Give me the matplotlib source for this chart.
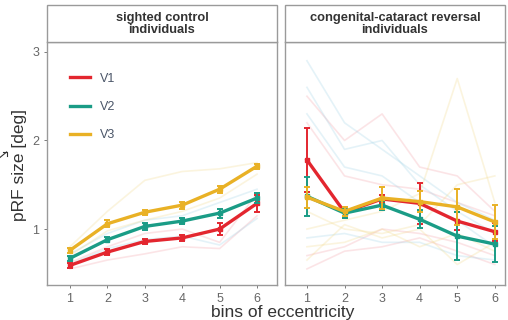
import numpy as np
import matplotlib.pyplot as plt
from matplotlib.patches import Rectangle
from matplotlib.lines import Line2D

# eccentricity bins
bins = [1, 2, 3, 4, 5, 6]

# group means and errors: sighted controls
sc_v1 = [0.59, 0.74, 0.86, 0.90, 1.00, 1.29]
sc_v2 = [0.67, 0.88, 1.03, 1.09, 1.18, 1.35]
sc_v3 = [0.76, 1.06, 1.19, 1.27, 1.45, 1.71]
sc_v1_err = [0.03, 0.03, 0.03, 0.03, 0.07, 0.10]
sc_v2_err = [0.03, 0.03, 0.04, 0.03, 0.05, 0.06]
sc_v3_err = [0.03, 0.04, 0.03, 0.04, 0.04, 0.03]

# group means and errors: congenital-cataract reversal
cc_v1 = [1.78, 1.19, 1.34, 1.29, 1.09, 0.97]
cc_v2 = [1.37, 1.18, 1.27, 1.11, 0.92, 0.83]
cc_v3 = [1.36, 1.20, 1.35, 1.31, 1.25, 1.08]
cc_v1_err = [0.36, 0.06, 0.05, 0.23, 0.10, 0.10]
cc_v2_err = [0.22, 0.05, 0.05, 0.10, 0.27, 0.20]
cc_v3_err = [0.12, 0.05, 0.12, 0.12, 0.20, 0.19]

# individual subjects (faint lines), read approximately
sc_ind_v1 = [[0.55, 0.65, 0.72, 0.80, 0.78, 1.15],
             [0.62, 0.80, 0.95, 1.00, 0.85, 1.40]]
sc_ind_v2 = [[0.60, 0.78, 0.88, 0.92, 0.82, 1.12],
             [0.72, 0.95, 1.10, 1.15, 1.30, 1.45]]
sc_ind_v3 = [[0.80, 1.20, 1.55, 1.65, 1.68, 1.75],
             [0.70, 0.98, 1.10, 1.20, 1.35, 1.62]]

cc_ind_v1 = [[2.50, 2.00, 2.30, 1.70, 1.60, 1.20],
             [2.20, 1.60, 1.50, 1.45, 1.30, 1.15],
             [0.70, 0.80, 1.00, 0.95, 0.85, 0.70],
             [0.55, 0.75, 0.80, 0.90, 0.75, 0.60]]
cc_ind_v2 = [[2.90, 2.20, 1.90, 1.60, 1.30, 1.10],
             [2.60, 1.90, 2.00, 1.50, 1.20, 0.95],
             [2.30, 1.70, 1.60, 1.30, 1.10, 0.80],
             [0.90, 0.95, 0.85, 0.85, 0.70, 0.65]]
cc_ind_v3 = [[1.00, 1.10, 1.20, 1.40, 2.70, 1.30],
             [1.20, 1.00, 0.95, 1.05, 1.50, 1.60],
             [0.80, 0.85, 1.00, 0.80, 0.95, 0.75],
             [0.65, 1.05, 0.90, 1.00, 0.60, 0.85]]

labels = ['V1', 'V2', 'V3']
colors = ['#e3262f', '#1a9c86', '#e9b125']
ind_colors = ['#f4a0a8', '#9fd3e6', '#f2d98a']

plt.rcParams['font.family'] = ['Liberation Sans', 'DejaVu Sans']

fig = plt.figure(figsize=(5.08, 3.2), dpi=100)
ax1 = fig.add_axes([0.0925, 0.109, 0.4525, 0.76])
ax2 = fig.add_axes([0.561, 0.109, 0.433, 0.76])

panels = [
    (ax1, 'sighted control\nindividuals', [sc_v1, sc_v2, sc_v3],
     [sc_v1_err, sc_v2_err, sc_v3_err], [sc_ind_v1, sc_ind_v2, sc_ind_v3], (0.385, 6.53)),
    (ax2, 'congenital-cataract reversal\nindividuals', [cc_v1, cc_v2, cc_v3],
     [cc_v1_err, cc_v2_err, cc_v3_err], [cc_ind_v1, cc_ind_v2, cc_ind_v3], (0.415, 6.27)),
]

for ax, title, means, errs, inds, xl in panels:
    # faint individual lines
    for k in range(3):
        for line in inds[k]:
            ax.plot(bins, line, color=ind_colors[k], lw=1.2, alpha=0.28, zorder=1)
    # group means
    for k in range(3):
        ax.errorbar(bins, means[k], yerr=errs[k], color=colors[k], lw=2.4,
                    marker='s', ms=3.5, capsize=2.5, capthick=1.4, elinewidth=1.4,
                    zorder=3 + k * 0.1)
    ax.set_xlim(*xl)
    ax.set_ylim(0.367, 3.113)
    ax.set_xticks(bins)
    ax.set_yticks([1, 2, 3])
    ax.tick_params(colors='#666666', labelsize=9, length=2, width=0.6)
    for s in ax.spines.values():
        s.set_color('#9a9a9a')
        s.set_linewidth(1.0)
    # facet strip
    pos = ax.get_position()
    strip = Rectangle((pos.x0, pos.y1), pos.width, 0.115, transform=fig.transFigure,
                      facecolor='white', edgecolor='#9a9a9a', lw=1.0)
    fig.add_artist(strip)
    fig.text(pos.x0 + pos.width / 2, pos.y1 + 0.057, title, ha='center', va='center',
             fontsize=9.3, fontweight='bold', color='#333333', linespacing=1.0)

ax2.set_yticklabels([])
ax2.tick_params(axis='y', length=0)

handles = [Line2D([], [], color=c, lw=2.4) for c in colors]
ax1.legend(handles, labels, loc='upper left', bbox_to_anchor=(0.05, 0.92), frameon=False,
           handlelength=1.6, labelspacing=1.3, fontsize=9, labelcolor='#4a5568')

fig.text(0.038, 0.485, 'pRF size [deg]', rotation=90, ha='center', va='center',
         fontsize=12.5, color='#333333')
fig.text(0.556, 0.025, 'bins of eccentricity', ha='center', va='center',
         fontsize=12.5, color='#333333')

# small stray arrow on left margin
fig.add_artist(Line2D([0.0, 0.013], [0.508, 0.525], transform=fig.transFigure,
                      color='#333333', lw=0.8))
fig.add_artist(Line2D([0.005, 0.013, 0.013], [0.525, 0.525, 0.512], transform=fig.transFigure,
                      color='#333333', lw=0.8))

fig.savefig('out.png', dpi=100)
